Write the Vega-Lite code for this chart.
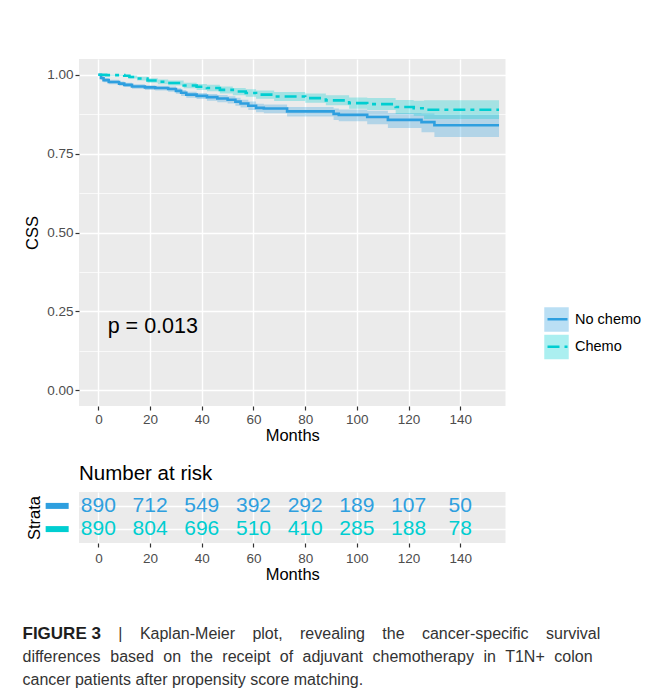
{
  "$schema": "https://vega.github.io/schema/vega-lite/v6.json",
  "padding": {"left": 22, "top": 59, "right": 5, "bottom": 0},
  "background": "white",
  "spacing": 19,
  "config": {
    "font": "Liberation Sans",
    "view": {"fill": "#EBEBEB", "stroke": null},
    "axis": {"labelFont": "Liberation Sans", "titleFont": "Liberation Sans", "domain": false, "tickColor": "#333333", "labelColor": "#4D4D4D", "titleFontWeight": "normal", "titleColor": "black", "gridColor": "white"},
    "style": {"cap": {"font": "Liberation Sans", "fontSize": 16, "color": "#333333", "align": "left", "baseline": "middle"}}
  },
  "datasets": {
    "km": [
      {"strata": "No chemo", "time": 0, "surv": 1.000, "lower": 1.000, "upper": 1.000},
      {"strata": "No chemo", "time": 1, "surv": 0.990, "lower": 0.984, "upper": 0.996},
      {"strata": "No chemo", "time": 2, "surv": 0.983, "lower": 0.976, "upper": 0.990},
      {"strata": "No chemo", "time": 4, "surv": 0.977, "lower": 0.970, "upper": 0.984},
      {"strata": "No chemo", "time": 8, "surv": 0.972, "lower": 0.965, "upper": 0.979},
      {"strata": "No chemo", "time": 10, "surv": 0.968, "lower": 0.961, "upper": 0.975},
      {"strata": "No chemo", "time": 13, "surv": 0.963, "lower": 0.956, "upper": 0.970},
      {"strata": "No chemo", "time": 18, "surv": 0.960, "lower": 0.952, "upper": 0.967},
      {"strata": "No chemo", "time": 22, "surv": 0.958, "lower": 0.950, "upper": 0.965},
      {"strata": "No chemo", "time": 27, "surv": 0.955, "lower": 0.946, "upper": 0.963},
      {"strata": "No chemo", "time": 30, "surv": 0.949, "lower": 0.940, "upper": 0.957},
      {"strata": "No chemo", "time": 32, "surv": 0.943, "lower": 0.933, "upper": 0.952},
      {"strata": "No chemo", "time": 34, "surv": 0.937, "lower": 0.927, "upper": 0.946},
      {"strata": "No chemo", "time": 38, "surv": 0.933, "lower": 0.923, "upper": 0.942},
      {"strata": "No chemo", "time": 42, "surv": 0.929, "lower": 0.918, "upper": 0.939},
      {"strata": "No chemo", "time": 46, "surv": 0.925, "lower": 0.913, "upper": 0.936},
      {"strata": "No chemo", "time": 50, "surv": 0.921, "lower": 0.909, "upper": 0.932},
      {"strata": "No chemo", "time": 53, "surv": 0.915, "lower": 0.902, "upper": 0.927},
      {"strata": "No chemo", "time": 55, "surv": 0.909, "lower": 0.896, "upper": 0.921},
      {"strata": "No chemo", "time": 58, "surv": 0.902, "lower": 0.888, "upper": 0.915},
      {"strata": "No chemo", "time": 61, "surv": 0.895, "lower": 0.881, "upper": 0.908},
      {"strata": "No chemo", "time": 64, "surv": 0.893, "lower": 0.878, "upper": 0.906},
      {"strata": "No chemo", "time": 73, "surv": 0.884, "lower": 0.868, "upper": 0.898},
      {"strata": "No chemo", "time": 91, "surv": 0.876, "lower": 0.857, "upper": 0.893},
      {"strata": "No chemo", "time": 93, "surv": 0.873, "lower": 0.853, "upper": 0.890},
      {"strata": "No chemo", "time": 104, "surv": 0.866, "lower": 0.843, "upper": 0.886},
      {"strata": "No chemo", "time": 112, "surv": 0.857, "lower": 0.831, "upper": 0.879},
      {"strata": "No chemo", "time": 125, "surv": 0.850, "lower": 0.818, "upper": 0.877},
      {"strata": "No chemo", "time": 130, "surv": 0.840, "lower": 0.803, "upper": 0.873},
      {"strata": "No chemo", "time": 155, "surv": 0.840, "lower": 0.803, "upper": 0.873},
      {"strata": "Chemo", "time": 0, "surv": 1.000, "lower": 1.000, "upper": 1.000},
      {"strata": "Chemo", "time": 3, "surv": 0.999, "lower": 0.997, "upper": 1.000},
      {"strata": "Chemo", "time": 10, "surv": 0.997, "lower": 0.993, "upper": 1.000},
      {"strata": "Chemo", "time": 12, "surv": 0.993, "lower": 0.988, "upper": 0.998},
      {"strata": "Chemo", "time": 15, "surv": 0.988, "lower": 0.982, "upper": 0.994},
      {"strata": "Chemo", "time": 19, "surv": 0.982, "lower": 0.975, "upper": 0.989},
      {"strata": "Chemo", "time": 23, "surv": 0.978, "lower": 0.970, "upper": 0.985},
      {"strata": "Chemo", "time": 27, "surv": 0.974, "lower": 0.966, "upper": 0.982},
      {"strata": "Chemo", "time": 33, "surv": 0.966, "lower": 0.957, "upper": 0.975},
      {"strata": "Chemo", "time": 38, "surv": 0.962, "lower": 0.952, "upper": 0.971},
      {"strata": "Chemo", "time": 42, "surv": 0.958, "lower": 0.948, "upper": 0.968},
      {"strata": "Chemo", "time": 47, "surv": 0.952, "lower": 0.941, "upper": 0.963},
      {"strata": "Chemo", "time": 52, "surv": 0.947, "lower": 0.935, "upper": 0.958},
      {"strata": "Chemo", "time": 57, "surv": 0.942, "lower": 0.930, "upper": 0.954},
      {"strata": "Chemo", "time": 61, "surv": 0.937, "lower": 0.924, "upper": 0.950},
      {"strata": "Chemo", "time": 68, "surv": 0.931, "lower": 0.917, "upper": 0.945},
      {"strata": "Chemo", "time": 80, "surv": 0.926, "lower": 0.911, "upper": 0.941},
      {"strata": "Chemo", "time": 88, "surv": 0.919, "lower": 0.903, "upper": 0.935},
      {"strata": "Chemo", "time": 97, "surv": 0.910, "lower": 0.892, "upper": 0.928},
      {"strata": "Chemo", "time": 104, "surv": 0.907, "lower": 0.888, "upper": 0.926},
      {"strata": "Chemo", "time": 115, "surv": 0.898, "lower": 0.876, "upper": 0.920},
      {"strata": "Chemo", "time": 122, "surv": 0.894, "lower": 0.870, "upper": 0.918},
      {"strata": "Chemo", "time": 126, "surv": 0.889, "lower": 0.860, "upper": 0.919},
      {"strata": "Chemo", "time": 155, "surv": 0.889, "lower": 0.860, "upper": 0.919}
    ],
    "risk": [
      {"strata": "No chemo", "time": 0, "n": 890},
      {"strata": "No chemo", "time": 20, "n": 712},
      {"strata": "No chemo", "time": 40, "n": 549},
      {"strata": "No chemo", "time": 60, "n": 392},
      {"strata": "No chemo", "time": 80, "n": 292},
      {"strata": "No chemo", "time": 100, "n": 189},
      {"strata": "No chemo", "time": 120, "n": 107},
      {"strata": "No chemo", "time": 140, "n": 50},
      {"strata": "Chemo", "time": 0, "n": 890},
      {"strata": "Chemo", "time": 20, "n": 804},
      {"strata": "Chemo", "time": 40, "n": 696},
      {"strata": "Chemo", "time": 60, "n": 510},
      {"strata": "Chemo", "time": 80, "n": 410},
      {"strata": "Chemo", "time": 100, "n": 285},
      {"strata": "Chemo", "time": 120, "n": 188},
      {"strata": "Chemo", "time": 140, "n": 78}
    ],
    "caption": [
      {"line": 1, "w": "h", "text": "FIGURE 3"},
      {"line": 1, "w": "a1", "text": "|"},
      {"line": 1, "w": "a2", "text": "Kaplan-Meier"},
      {"line": 1, "w": "a3", "text": "plot,"},
      {"line": 1, "w": "a4", "text": "revealing"},
      {"line": 1, "w": "a5", "text": "the"},
      {"line": 1, "w": "a6", "text": "cancer-specific"},
      {"line": 1, "w": "a7", "text": "survival"},
      {"line": 2, "w": "s", "text": "differences"},
      {"line": 2, "w": "b2", "text": "based"},
      {"line": 2, "w": "b3", "text": "on"},
      {"line": 2, "w": "b4", "text": "the"},
      {"line": 2, "w": "b5", "text": "receipt"},
      {"line": 2, "w": "b6", "text": "of"},
      {"line": 2, "w": "b7", "text": "adjuvant"},
      {"line": 2, "w": "b8", "text": "chemotherapy"},
      {"line": 2, "w": "b9", "text": "in"},
      {"line": 2, "w": "b10", "text": "T1N+"},
      {"line": 2, "w": "b11", "text": "colon"},
      {"line": 3, "w": "s", "text": "cancer patients after propensity score matching."}
    ]
  },
  "vconcat": [
    {
      "width": 426.5,
      "height": 347,
      "data": {"name": "km"},
      "layer": [
        {
          "mark": {"type": "area", "interpolate": "step-after", "fillOpacity": 0.3, "clip": true},
          "encoding": {
            "x": {"field": "time", "type": "quantitative",
              "scale": {"domain": [-7.5, 157.5], "nice": false, "zero": false},
              "axis": {"values": [0, 10, 20, 30, 40, 50, 60, 70, 80, 90, 100, 110, 120, 130, 140, 150], "format": "d",
                "grid": true, "gridWidth": {"condition": {"test": "datum.value % 20 === 0", "value": 1.4}, "value": 0.7},
                "labelExpr": "datum.value % 20 === 0 ? datum.label : ''",
                "tickOpacity": {"condition": {"test": "datum.value % 20 === 0", "value": 1}, "value": 0},
                "tickSize": 4, "tickWidth": 1.2, "labelFontSize": 13.5, "labelPadding": 2,
                "title": "Months", "titleFontSize": 16.5, "titlePadding": 2}},
            "y": {"field": "lower", "type": "quantitative",
              "scale": {"domain": [-0.05, 1.05], "nice": false, "zero": false},
              "axis": {"values": [0, 0.125, 0.25, 0.375, 0.5, 0.625, 0.75, 0.875, 1], "format": ".2f",
                "grid": true, "gridWidth": {"condition": {"test": "abs(datum.value * 4 - round(datum.value * 4)) < 0.001", "value": 1.4}, "value": 0.7},
                "labelExpr": "abs(datum.value * 4 - round(datum.value * 4)) < 0.001 ? datum.label : ''",
                "tickOpacity": {"condition": {"test": "abs(datum.value * 4 - round(datum.value * 4)) < 0.001", "value": 1}, "value": 0},
                "tickSize": 4, "tickWidth": 1.2, "labelFontSize": 13.5, "labelPadding": 2,
                "title": "CSS", "titleFontSize": 16.5, "titlePadding": 6}},
            "y2": {"field": "upper"},
            "fill": {"field": "strata", "type": "nominal", "sort": ["No chemo", "Chemo"],
              "scale": {"range": ["#2E9FDF", "#00CED1"]},
              "legend": {"orient": "none", "legendX": 465, "legendY": 248, "title": null, "symbolType": "square", "symbolSize": 600, "symbolOpacity": 0.33, "symbolStrokeWidth": 0, "labelFontSize": 14.5, "labelColor": "black", "rowPadding": 2.5, "labelOffset": 6, "zindex": 0}}
          }
        },
        {
          "mark": {"type": "line", "interpolate": "step-after", "strokeWidth": 2.6, "clip": true},
          "encoding": {
            "x": {"field": "time", "type": "quantitative"},
            "y": {"field": "surv", "type": "quantitative"},
            "stroke": {"field": "strata", "type": "nominal",
              "scale": {"domain": ["No chemo", "Chemo"], "range": ["#2E9FDF", "#00CED1"]},
              "legend": {"orient": "none", "legendX": 465, "legendY": 248, "title": null, "symbolType": "stroke", "symbolSize": 400, "symbolStrokeWidth": 2.6, "symbolOffset": 2, "labelExpr": "''", "labelFontSize": 14.5, "rowPadding": 2.5, "clipHeight": 24.5, "zindex": 1}},
            "strokeDash": {"field": "strata", "type": "nominal",
              "scale": {"domain": ["No chemo", "Chemo"], "range": [[1, 0], [12, 5, 4, 5]]}}
          }
        },
        {
          "data": {"values": [{"label": "p = 0.013"}]},
          "mark": {"type": "text", "align": "left", "baseline": "middle", "fontSize": 21.5, "color": "black"},
          "encoding": {
            "x": {"datum": 3.6, "type": "quantitative"},
            "y": {"datum": 0.2, "type": "quantitative"},
            "text": {"field": "label"}
          }
        }
      ]
    },
    {
      "width": 426.5,
      "height": 51,
      "title": {"text": "Number at risk", "anchor": "start", "frame": "group", "fontSize": 20.5, "fontWeight": "normal", "color": "black", "offset": 8},
      "encoding": {
        "y": {"field": "strata", "type": "nominal", "sort": ["No chemo", "Chemo"],
          "scale": {"type": "point", "padding": 0.6},
          "axis": {"title": "Strata", "titleFontSize": 16.5, "titlePadding": 37, "grid": true, "gridWidth": 1.4, "ticks": false, "labels": false}},
        "color": {"field": "strata", "type": "nominal",
          "scale": {"domain": ["No chemo", "Chemo"], "range": ["#2E9FDF", "#00CED1"]}, "legend": null}
      },
      "layer": [
        {
          "data": {"name": "risk"},
          "mark": {"type": "text", "fontSize": 21, "baseline": "middle"},
          "encoding": {
            "x": {"field": "time", "type": "quantitative",
              "scale": {"domain": [-7.5, 157.5], "nice": false, "zero": false},
              "axis": {"values": [0, 10, 20, 30, 40, 50, 60, 70, 80, 90, 100, 110, 120, 130, 140, 150], "format": "d",
                "grid": true, "gridWidth": {"condition": {"test": "datum.value % 20 === 0", "value": 1.4}, "value": 0.7},
                "labelExpr": "datum.value % 20 === 0 ? datum.label : ''",
                "tickOpacity": {"condition": {"test": "datum.value % 20 === 0", "value": 1}, "value": 0},
                "tickSize": 4, "tickWidth": 1.2, "labelFontSize": 13.5, "labelPadding": 4,
                "title": "Months", "titleFontSize": 16.5, "titlePadding": 2}},
            "text": {"field": "n", "type": "quantitative"}
          }
        },
        {
          "data": {"values": [{"strata": "No chemo"}, {"strata": "Chemo"}]},
          "mark": {"type": "rule", "strokeWidth": 6, "strokeCap": "butt", "clip": false},
          "encoding": {
            "x": {"datum": -20.4, "type": "quantitative"},
            "x2": {"datum": -11.5}
          }
        }
      ]
    },
    {
      "width": 426.5,
      "height": 92,
      "view": {"fill": null, "stroke": null},
      "data": {"name": "caption"},
      "encoding": {
        "y": {"field": "line", "type": "quantitative", "scale": {"domain": [-0.37, 3.63], "reverse": true, "nice": false, "zero": false}, "axis": null},
        "x": {"value": 0},
        "text": {"field": "text"}
      },
      "layer": [
        {"transform": [{"filter": "datum.w === 'h'"}], "mark": {"type": "text", "style": "cap", "fontSize": 17, "fontWeight": "bold", "color": "#1E1E1E", "dx": -56.5}},
        {"transform": [{"filter": "datum.w === 'a1'"}], "mark": {"type": "text", "style": "cap", "dx": 39.3}},
        {"transform": [{"filter": "datum.w === 'a2'"}], "mark": {"type": "text", "style": "cap", "dx": 60.9}},
        {"transform": [{"filter": "datum.w === 'a3'"}], "mark": {"type": "text", "style": "cap", "dx": 173.4}},
        {"transform": [{"filter": "datum.w === 'a4'"}], "mark": {"type": "text", "style": "cap", "dx": 221.0}},
        {"transform": [{"filter": "datum.w === 'a5'"}], "mark": {"type": "text", "style": "cap", "dx": 303.3}},
        {"transform": [{"filter": "datum.w === 'a6'"}], "mark": {"type": "text", "style": "cap", "dx": 342.9}},
        {"transform": [{"filter": "datum.w === 'a7'"}], "mark": {"type": "text", "style": "cap", "dx": 467.0}},
        {"transform": [{"filter": "datum.w === 's'"}], "mark": {"type": "text", "style": "cap", "dx": -56.5}},
        {"transform": [{"filter": "datum.w === 'b2'"}], "mark": {"type": "text", "style": "cap", "dx": 31.3}},
        {"transform": [{"filter": "datum.w === 'b3'"}], "mark": {"type": "text", "style": "cap", "dx": 84.3}},
        {"transform": [{"filter": "datum.w === 'b4'"}], "mark": {"type": "text", "style": "cap", "dx": 111.6}},
        {"transform": [{"filter": "datum.w === 'b5'"}], "mark": {"type": "text", "style": "cap", "dx": 143.3}},
        {"transform": [{"filter": "datum.w === 'b6'"}], "mark": {"type": "text", "style": "cap", "dx": 200.8}},
        {"transform": [{"filter": "datum.w === 'b7'"}], "mark": {"type": "text", "style": "cap", "dx": 223.5}},
        {"transform": [{"filter": "datum.w === 'b8'"}], "mark": {"type": "text", "style": "cap", "dx": 293.5}},
        {"transform": [{"filter": "datum.w === 'b9'"}], "mark": {"type": "text", "style": "cap", "dx": 404.4}},
        {"transform": [{"filter": "datum.w === 'b10'"}], "mark": {"type": "text", "style": "cap", "dx": 426.2}},
        {"transform": [{"filter": "datum.w === 'b11'"}], "mark": {"type": "text", "style": "cap", "dx": 475.3}}
      ]
    }
  ]
}
